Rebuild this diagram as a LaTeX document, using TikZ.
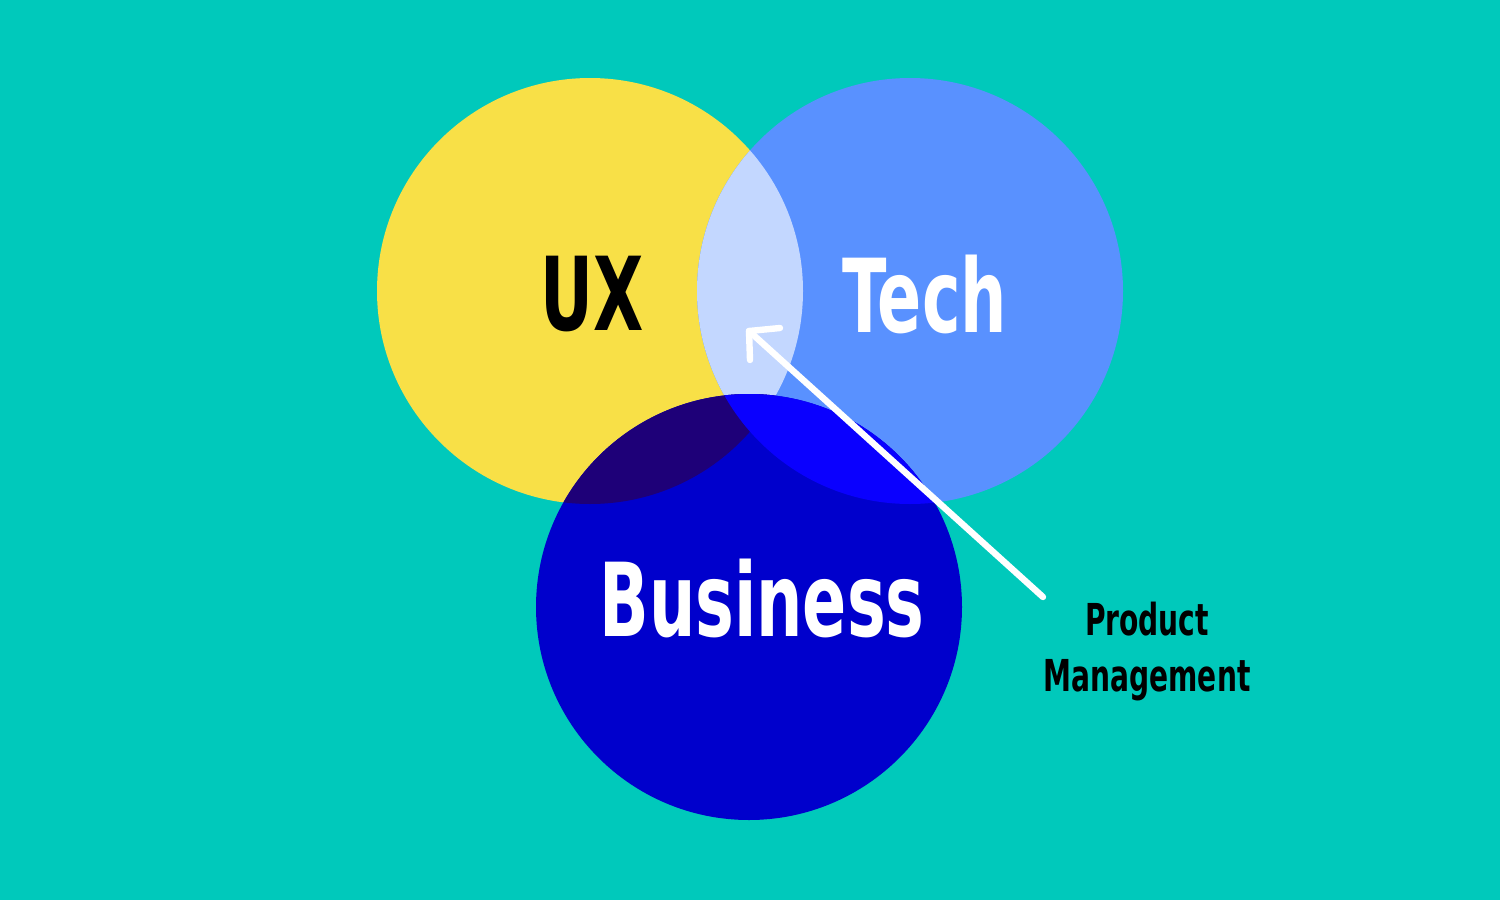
\documentclass[tikz,border=0pt]{standalone}
\usepackage{fontspec}
\newfontfamily\handfont[FakeStretch=0.71]{DejaVu Sans Condensed}
\definecolor{bg}{HTML}{00C9BB}
\definecolor{uxcol}{HTML}{F8E047}
\definecolor{techcol}{HTML}{5991FF}
\definecolor{lenscol}{HTML}{C3D7FF}
\definecolor{buscol}{HTML}{0000CC}
\definecolor{uxbus}{HTML}{1E0078}
\definecolor{techbus}{HTML}{0A00FF}
\tikzset{
  bigtext/.style={font=\handfont\bfseries\fontsize{51}{56}\selectfont, inner sep=0pt},
  smalltext/.style={font=\handfont\bfseries\fontsize{22}{28}\selectfont, inner sep=0pt, align=center},
  pointer/.style={white, line width=3.2pt, line cap=round, line join=round}
}
\begin{document}
\begin{tikzpicture}[x=0.5pt,y=-0.5pt]
\fill[bg] (0,0) rectangle (1500,900);
\useasboundingbox (0,0) rectangle (1500,900);
\def\R{106.5pt}
\coordinate (cux) at (590,291);
\coordinate (ctech) at (910,291);
\coordinate (cbus) at (749,607);
\fill[uxcol] (cux) circle[radius=\R];
\fill[techcol] (ctech) circle[radius=\R];
\begin{scope}
  \clip (cux) circle[radius=\R];
  \fill[lenscol] (ctech) circle[radius=\R];
\end{scope}
\fill[buscol] (cbus) circle[radius=\R];
\begin{scope}
  \clip (cbus) circle[radius=\R];
  \fill[uxbus] (cux) circle[radius=\R];
  \fill[techbus] (ctech) circle[radius=\R];
\end{scope}
\node[bigtext, text=black] (ux) at (592,294) {UX};
\node[bigtext, text=white] (tech) at (925,294) {Tech};
\node[bigtext, text=white] (bus) at (762,598) {Business};
\node[smalltext, text=black] (pm) at (1147,652) {Product\\Management};
\coordinate (tail) at (1043,597);
\coordinate (tip) at (749,331);
\coordinate (h1) at (780,328);
\coordinate (h2) at (750,360);
\draw[pointer] (tail) -- (tip);
\draw[pointer] (h1) -- (tip) -- (h2);
\end{tikzpicture}
\end{document}
